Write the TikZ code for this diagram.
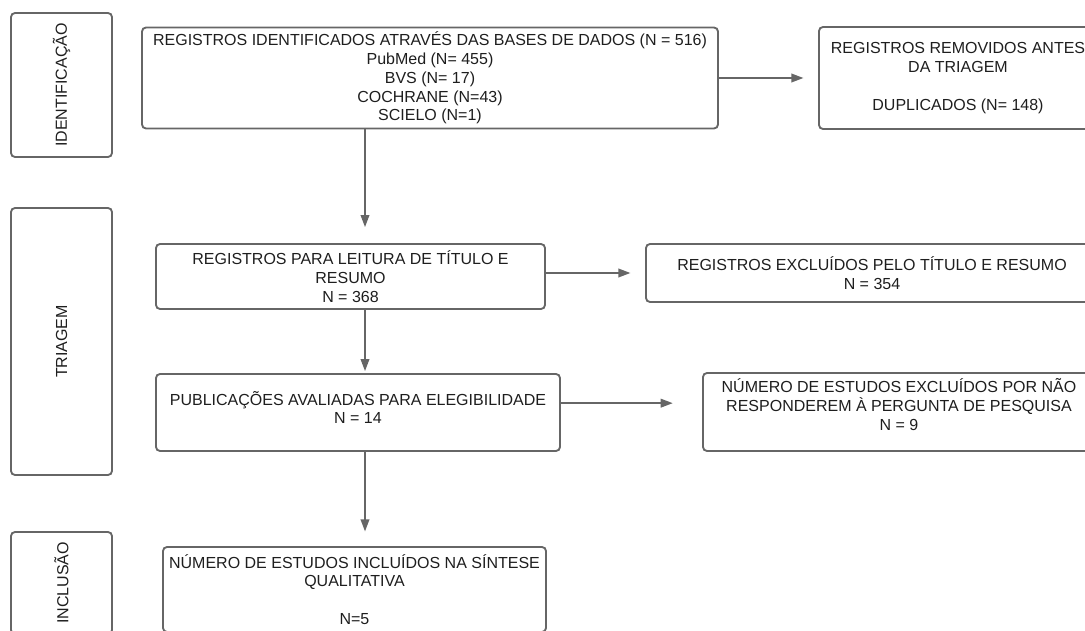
\documentclass[tikz,border=0pt]{standalone}
\usepackage{fontspec}
\setmainfont{Liberation Sans}
\usetikzlibrary{arrows.meta}
\definecolor{linha}{HTML}{666666}
\definecolor{texto}{HTML}{1E1E1E}
\newcommand{\pix}{0.75pt}

\begin{document}
\begin{tikzpicture}[x=0.75pt,y=-0.75pt]
                \tikzset{caixa/.style={draw=linha, line width=1.4pt, rounded corners=3pt, inner sep=0pt,
                text=texto, align=center, font=\fontsize{12}{14.1}\selectfont},
                fase/.style={caixa, rotate=90},
                seta/.style={draw=linha, line width=1.1pt, -{Triangle[length=9pt, width=6.5pt]}}}

                \useasboundingbox (0,0) rectangle (1085,631);
                \coordinate (eixo) at (365,0);

                \node[fase, minimum width=144*\pix, minimum height=101*\pix] (idf) at (61.5,85) {IDENTIFICAÇÃO};
                \node[fase, minimum width=267*\pix, minimum height=101*\pix] (tri) at (61.5,341.5) {TRIAGEM};
                \node[fase, minimum width=102*\pix, minimum height=101*\pix] (inc) at (61.5,583) {INCLUSÃO};

                \node[caixa, minimum width=576*\pix, minimum height=101*\pix] (reg) at (430,78)
                    {REGISTROS IDENTIFICADOS ATRAVÉS DAS BASES DE DADOS (N = 516)\\ PubMed (N= 455)\\ BVS (N= 17)\\ COCHRANE (N=43)\\ SCIELO (N=1)};
                \node[caixa, minimum width=278*\pix, minimum height=102*\pix] (rem) at (958,78)
                    {REGISTROS REMOVIDOS ANTES\\ DA TRIAGEM\\ \mbox{}\\ DUPLICADOS (N= 148)};
                \node[caixa, minimum width=389*\pix, minimum height=65*\pix] (leit) at (350.5,276.5)
                    {REGISTROS PARA LEITURA DE TÍTULO E\\ RESUMO\\ N = 368};
                \node[caixa, minimum width=452*\pix, minimum height=58*\pix] (exc) at (872,273)
                    {REGISTROS EXCLUÍDOS PELO TÍTULO E RESUMO\\ N = 354};
                \node[caixa, minimum width=404*\pix, minimum height=77*\pix, text depth=7.5pt] (pub) at (358,412.5)
                    {PUBLICAÇÕES AVALIADAS PARA ELEGIBILIDADE\\ N = 14};
                \node[caixa, minimum width=392*\pix, minimum height=78*\pix, text depth=11pt] (nao) at (899,412)
                    {NÚMERO DE ESTUDOS EXCLUÍDOS POR NÃO\\ RESPONDEREM À PERGUNTA DE PESQUISA\\ N = 9};
                \node[caixa, minimum width=383*\pix, minimum height=85*\pix] (sint) at (354.5,589.5)
                    {NÚMERO DE ESTUDOS INCLUÍDOS NA SÍNTESE\\ QUALITATIVA\\ \mbox{}\\ N=5};

                \draw[seta, shorten >=11pt] (reg.east) -- (rem.west);
                \draw[seta, shorten >=11pt] (exc.west -| leit.east) -- (exc.west);
                \draw[seta, shorten >=22pt] ([yshift=7pt]pub.east) -- ([yshift=7pt]pub.east -| nao.west);
                \draw[seta, shorten >=12pt] (reg.south -| eixo) -- (leit.north -| eixo);
                \draw[seta, shorten >=1.5pt] (leit.south -| eixo) -- (pub.north -| eixo);
                \draw[seta, shorten >=11pt] (pub.south -| eixo) -- (sint.north -| eixo);
            \end{tikzpicture}
\end{document}
